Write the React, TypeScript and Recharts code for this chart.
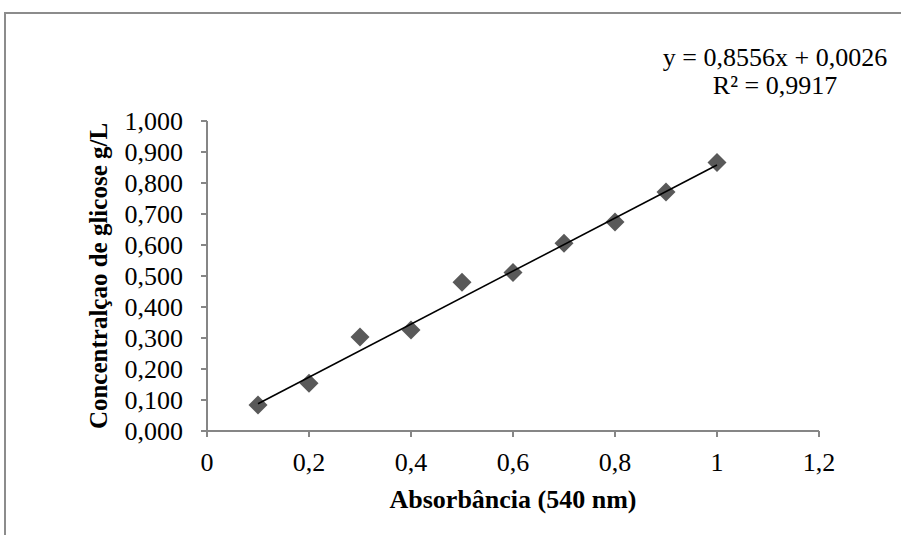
import { ScatterChart, Scatter, XAxis, YAxis, Label } from 'recharts'

// absorbance (x) vs glucose concentration (y)
const absorbancia = [0.1, 0.2, 0.3, 0.4, 0.5, 0.6, 0.7, 0.8, 0.9, 1.0]
const concentracao = [0.084, 0.154, 0.303, 0.326, 0.48, 0.511, 0.606, 0.674, 0.771, 0.866]

// linear trendline endpoints (y = 0,8556x + 0,0026)
const trendX = [0.1, 1.0]
const trendY = [0.088, 0.858]

const xTicks = [0, 0.2, 0.4, 0.6, 0.8, 1, 1.2]
const yTicks = [0, 0.1, 0.2, 0.3, 0.4, 0.5, 0.6, 0.7, 0.8, 0.9, 1.0]

const equacao = 'y = 0,8556x + 0,0026'
const r2 = 'R² = 0,9917'

const points = absorbancia.map((x, i) => ({ x, y: concentracao[i] }))
const trend = trendX.map((x, i) => ({ x, y: trendY[i] }))

const FONT = '"Liberation Serif", "Times New Roman", serif'
const AXIS = '#868686'
const FS = 26

function Diamond(props: any) {
  const { cx, cy } = props
  const r = 9.5
  return (
    <path
      d={`M${cx},${cy - r} L${cx + r},${cy} L${cx},${cy + r} L${cx - r},${cy} Z`}
      fill="#595959"
    />
  )
}

const fmtX = (v: number) => String(v).replace('.', ',')
const fmtY = (v: number) => v.toFixed(3).replace('.', ',')

export default function App() {
  return (
    <div style={{ position: 'absolute', left: 0, top: 0, width: 901, height: 535, background: '#fff', overflow: 'hidden' }}>
      {/* chart border */}
      <div
        style={{
          position: 'absolute',
          left: 4,
          top: 12,
          width: 920,
          height: 560,
          borderTop: '2px solid #8c8c8c',
          borderLeft: '2px solid #8c8c8c',
        }}
      />

      <ScatterChart
        width={901}
        height={535}
        margin={{ top: 121, right: 82, bottom: 0, left: 0 }}
        style={{ position: 'absolute', left: 0, top: 0, fontFamily: FONT }}
      >
        <XAxis
          type="number"
          dataKey="x"
          domain={[0, 1.2]}
          ticks={xTicks}
          interval={0}
          tickFormatter={fmtX}
          stroke={AXIS}
          strokeWidth={2}
          tickSize={6}
          tickMargin={16}
          tick={{ fill: '#000', fontSize: FS, fontFamily: FONT }}
          height={104}
        >
          <Label
            value="Absorbância (540 nm)"
            position="center"
            dy={16}
            style={{ fill: '#000', fontSize: FS, fontWeight: 'bold', fontFamily: FONT }}
          />
        </XAxis>
        <YAxis
          type="number"
          dataKey="y"
          domain={[0, 1]}
          ticks={yTicks}
          interval={0}
          tickFormatter={fmtY}
          stroke={AXIS}
          strokeWidth={2}
          tickSize={6}
          tickMargin={18}
          tick={{ fill: '#000', fontSize: FS, fontFamily: FONT }}
          width={207}
        >
          <Label
            value="Concentralçao de glicose g/L"
            angle={-90}
            position="center"
            dx={-5}
            style={{ fill: '#000', fontSize: 25, fontWeight: 'bold', fontFamily: FONT, textAnchor: 'middle' }}
          />
        </YAxis>
        <Scatter data={points} shape={<Diamond />} isAnimationActive={false} />
        <Scatter
          data={trend}
          line={{ stroke: '#000', strokeWidth: 1.6 }}
          shape={() => <g />}
          isAnimationActive={false}
        />
      </ScatterChart>

      <div
        style={{
          position: 'absolute',
          left: 625,
          top: 44,
          width: 300,
          textAlign: 'center',
          fontFamily: FONT,
          fontSize: FS,
          lineHeight: '28px',
          color: '#000',
        }}
      >
        <div>{equacao}</div>
        <div>{r2}</div>
      </div>
    </div>
  )
}
